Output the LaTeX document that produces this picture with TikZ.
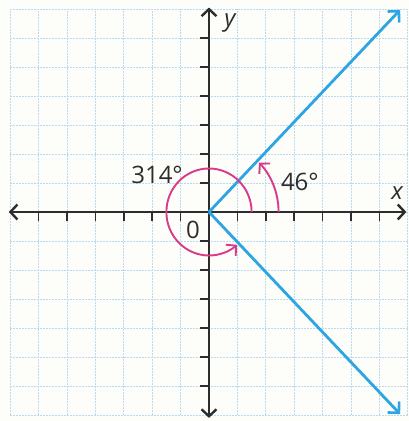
\documentclass[tikz,border=0pt]{standalone}
\usepackage{fontspec}
\setmainfont{Open Sans}
\usetikzlibrary{arrows.meta}
\definecolor{gridblue}{RGB}{185,218,240}
\definecolor{rayblue}{RGB}{45,165,228}
\definecolor{arcpink}{RGB}{218,58,138}
\definecolor{axisgray}{RGB}{45,45,45}
\definecolor{paper}{RGB}{253,253,249}
\tikzset{
  gridline/.style={gridblue, line width=0.9pt, dash pattern=on 2pt off 1pt},
  axisline/.style={axisgray, line width=2.6pt, {Straight Barb[length=7pt,width=15pt,line width=2.4pt]}-{Straight Barb[length=7pt,width=15pt,line width=2.4pt]}},
  tickline/.style={axisgray, line width=1.6pt},
  rayline/.style={rayblue, line width=2.8pt, -{Straight Barb[length=8pt,width=16pt,line width=2.6pt]}},
  arcline/.style={arcpink, line width=1.9pt, -{Straight Barb[length=7pt,width=15pt,line width=1.9pt]}},
  lbl/.style={font=\fontsize{24}{27}\selectfont, text=axisgray, inner sep=0pt},
  axlbl/.style={font=\fontsize{24}{27}\selectfont\itshape, text=axisgray, inner sep=0pt}
}
\begin{document}
\begin{tikzpicture}[x=28.4pt,y=29pt]
\fill[paper] (-7.359,-7.207) rectangle (7.042,7.310);
\useasboundingbox (-7.359,-7.207) rectangle (7.042,7.310);
% grid
\foreach \i in {-7,...,7} {
  \draw[gridline] (\i,-7) -- (\i,7);
  \draw[gridline] (-7,\i) -- (7,\i);
}
\coordinate (O) at (0,0);
% ticks
\foreach \i in {-6,...,-1,1,2,...,6} {
  \draw[tickline] (\i,0) -- (\i,-0.3);
  \draw[tickline] (0,\i) -- (-0.3,\i);
}
% axes
\coordinate (xl) at (-7.05,0);
\coordinate (xr) at (6.95,0);
\coordinate (yb) at (0,-7.1);
\coordinate (yt) at (0,7.05);
\draw[axisline] (xl) -- (xr);
\draw[axisline] (yb) -- (yt);
% rays
\coordinate (R1) at (6.73,6.97);
\coordinate (R2) at (6.73,-6.97);
\draw[rayline] (O) -- (R1);
\draw[rayline] (O) -- (R2);
% arcs
\draw[arcline] (2.45,0) arc[start angle=0,end angle=44,radius=2.45];
\draw[arcline] (1.5,0) arc[start angle=0,end angle=311,radius=1.5];
% labels
\node[lbl] (a314) at (-1.83,1.28) {314°};
\node[lbl] (a46) at (3.2,1.03) {46°};
\node[axlbl] (xlab) at (6.62,0.66) {x};
\node[axlbl] (ylab) at (0.74,6.52) {y};
\node[lbl] (zero) at (-0.56,-0.62) {0};
\end{tikzpicture}
\end{document}
